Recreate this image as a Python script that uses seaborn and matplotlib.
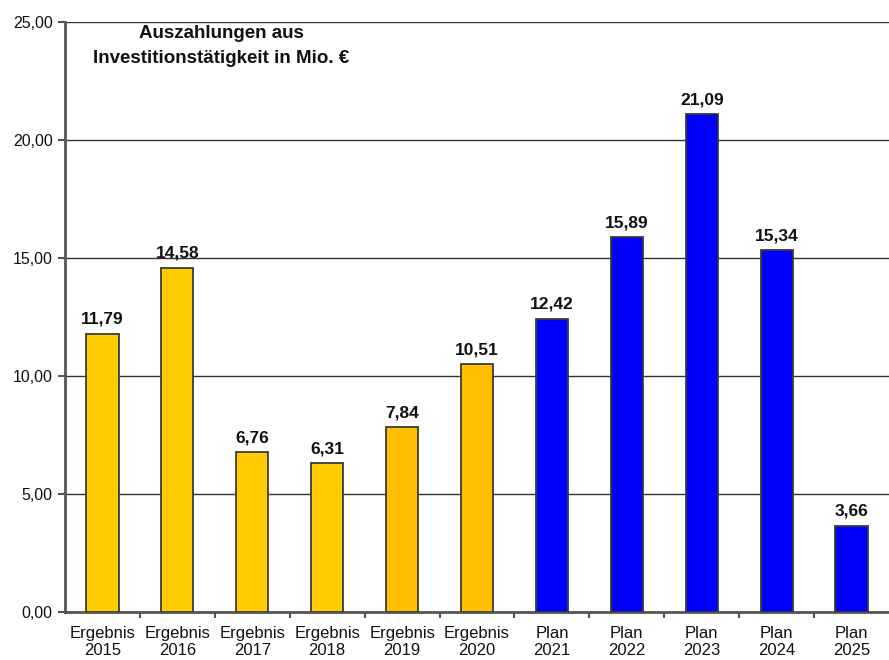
import matplotlib
matplotlib.use("Agg")
import matplotlib.pyplot as plt
import seaborn as sns
import pandas as pd
from matplotlib.ticker import MultipleLocator, FixedLocator

kinds = ["Ergebnis"] * 6 + ["Plan"] * 5
years = ["2015", "2016", "2017", "2018", "2019", "2020", "2021", "2022", "2023", "2024", "2025"]
values = [11.79, 14.58, 6.76, 6.31, 7.84, 10.51, 12.42, 15.89, 21.09, 15.34, 3.66]
bar_colors = ["#FFCC00"] * 4 + ["#FFC000"] * 2 + ["#0000FF"] * 5
title_lines = "Auszahlungen aus\nInvestitionstätigkeit in Mio. €"

labels = [f"{k}\n{y}" for k, y in zip(kinds, years)]
df = pd.DataFrame({"label": labels, "value": values})

sns.set_theme(style="white")
plt.rcParams["font.family"] = ["Liberation Sans", "DejaVu Sans"]

fig = plt.figure(figsize=(8.89, 6.6), dpi=100)
ax = fig.add_axes([65 / 889, 48 / 660, 1 - 65 / 889, (612 - 22) / 660])

sns.barplot(data=df, x="label", y="value", hue="label", palette=bar_colors,
            legend=False, width=0.43, edgecolor="#3a3a3a", linewidth=1.3,
            saturation=1, ax=ax, zorder=3)

ax.set_ylim(0, 25)
ax.set_xlim(-0.5, len(values) - 0.5)
ax.yaxis.set_major_locator(MultipleLocator(5))
ax.set_yticklabels([f"{v:.2f}".replace(".", ",") for v in ax.get_yticks()])
ax.grid(axis="y", color="#333333", linewidth=1.0, zorder=0)
ax.set_axisbelow(True)
ax.set_xlabel("")
ax.set_ylabel("")

for s in ["top", "right"]:
    ax.spines[s].set_visible(False)
for s in ["left", "bottom"]:
    ax.spines[s].set_color("#555555")
    ax.spines[s].set_linewidth(2)

ax.tick_params(axis="y", which="major", left=True, length=5, width=1.5,
               color="#555555", labelsize=11.5, pad=4, labelcolor="#111111")
ax.tick_params(axis="x", which="major", bottom=False, labelsize=12, pad=4,
               labelcolor="#111111")
ax.xaxis.set_minor_locator(FixedLocator([i + 0.5 for i in range(len(values) - 1)]))
ax.tick_params(axis="x", which="minor", bottom=True, length=4, width=1.5,
               color="#555555", direction="out")
for lab in ax.get_xticklabels():
    lab.set_linespacing(1.2)

for i, v in enumerate(values):
    ax.annotate(f"{v:.2f}".replace(".", ","), (i, v), xytext=(0, 5),
                textcoords="offset points", ha="center", va="bottom",
                fontsize=12.5, fontweight="bold", color="#111111")

fig.text(221 / 889, 1 - 46 / 660, title_lines, ha="center", va="center",
         fontsize=13.5, fontweight="bold", color="#111111", linespacing=1.55)

fig.savefig("out.png", dpi=100)
